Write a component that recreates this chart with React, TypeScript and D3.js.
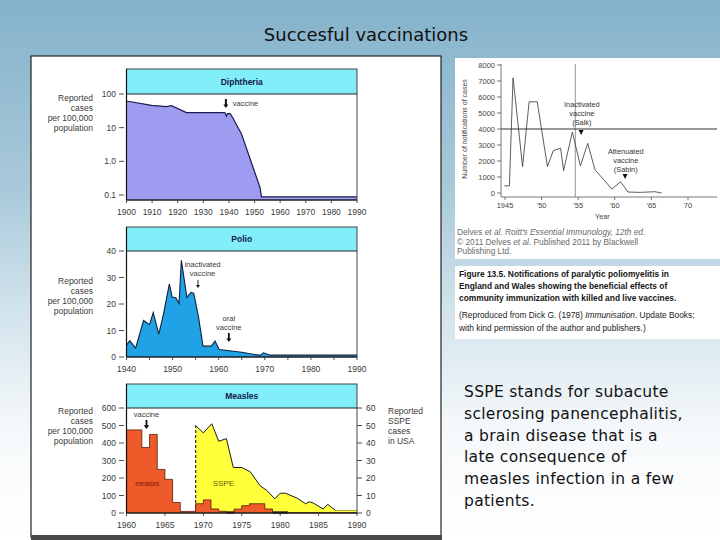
import React from 'react';
import * as d3 from 'd3';

const W = 720;
const H = 540;
const font = "'Liberation Sans', Arial, sans-serif";

// Diphtheria, reported cases per 100,000 (log scale)
const diphtheria: [number, number][] = [
  [1900, 62], [1909.8, 46], [1915.6, 42], [1917.6, 45], [1923.4, 28], [1938.4, 28],
  [1939, 22], [1939.4, 26], [1940.5, 26], [1941.6, 19], [1944.9, 6.5], [1952.1, 0.17],
  [1952.7, 0.088], [1990, 0.088],
];
const diphTicks = [100, 10, 1, 0.1];
const diphTickLabels = ['100', '10', '1.0', '0.1'];
const diphYears = [1900, 1910, 1920, 1930, 1940, 1950, 1960, 1970, 1980, 1990];

// Polio (US), reported cases per 100,000
const polioUS: [number, number][] = [
  [1940, 4.5], [1940.7, 6.2], [1942, 3.4], [1943.7, 13.8], [1945, 12.2], [1945.8, 16.8],
  [1947, 8.6], [1948, 16], [1949.3, 27.6], [1949.9, 22.6], [1950.7, 22.4], [1951.4, 20.2],
  [1951.9, 36.5], [1953.1, 22.5], [1954, 24.4], [1954.6, 24], [1955.6, 15.2], [1956.6, 4.1],
  [1958.4, 4.1], [1959.2, 6], [1960.1, 2.8], [1965, 1.8], [1969, 0.6], [1969.7, 1.6],
  [1971.2, 0.7], [1990, 0.7],
];
const polioTicks = [0, 10, 20, 30, 40];
const polioYears = [1940, 1950, 1960, 1970, 1980, 1990];

// Measles (step bars), cases per 100,000
const measles: [number, number][] = [
  [1960, 475], [1962, 374], [1963, 449], [1964, 249], [1965, 192], [1966, 60], [1967, 9],
  [1969, 53], [1970, 75], [1971, 23], [1972, 10], [1973, 4], [1974, 22], [1975, 42],
  [1976, 53], [1978, 23], [1979, 4], [1981, 2], [1990, 2],
];
const measlesDark: [number, number][] = [[1973, 1974], [1979, 1981]];
// SSPE cases in USA (right axis)
const sspe: [number, number][] = [
  [1969, 50], [1970, 45.8], [1971.1, 51], [1972, 41], [1973, 42.5], [1973.9, 26], [1975, 26],
  [1976.1, 23.6], [1977.4, 15.5], [1978.3, 12.8], [1979.3, 8.1], [1980, 11.3], [1980.7, 11.3],
  [1982.2, 8.5], [1983.3, 5.3], [1983.8, 6.4], [1984.3, 5.7], [1985.6, 2.3], [1986.2, 4.9],
  [1987.2, 1.5], [1990, 1.5],
];
const measlesTicks = [0, 100, 200, 300, 400, 500, 600];
const sspeTicks = [0, 10, 20, 30, 40, 50, 60];
const measlesYears = [1960, 1965, 1970, 1975, 1980, 1985, 1990];

// Paralytic poliomyelitis notifications, England and Wales
const polioUK: [number, number][] = [
  [1944.9, 450], [1945.6, 450], [1946.1, 7200], [1947.4, 1650], [1948.3, 5700], [1949.4, 5700],
  [1950.8, 1650], [1951.6, 2650], [1952.6, 2800], [1953, 1400], [1954.2, 3800], [1955.3, 1700],
  [1956.3, 3100], [1957.3, 1450], [1959.6, 250], [1960.8, 700], [1961.8, 60], [1963.5, 40],
  [1965.5, 80], [1966.4, 0],
];
const ukTicks = [0, 1000, 2000, 3000, 4000, 5000, 6000, 7000, 8000];
const ukYears = [1945, 1950, 1955, 1960, 1965, 1970];
const ukYearLabels = ['1945', "'50", "'55", "'60", "'65", '70'];

const leftLabel = ['Reported', 'cases', 'per 100,000', 'population'];
const sspeLabel = ['Reported', 'SSPE', 'cases', 'in USA'];
const paragraph = [
  'SSPE stands for subacute',
  'sclerosing panencephalitis,',
  'a brain disease that is a',
  'late consequence of',
  'measles infection in a few',
  'patients.',
];

const X0 = 126.5;
const X1 = 357;
const HEADER = '#82eef9';
const INK = '#3a3a3a';

function Arrow({ x, y1, y2, w = 1.6, head = 3 }: { x: number; y1: number; y2: number; w?: number; head?: number }) {
  return (
    <g>
      <line x1={x} x2={x} y1={y1} y2={y2 - head} stroke="#111" strokeWidth={w} />
      <polygon points={`${x - head},${y2 - head - 1} ${x + head},${y2 - head - 1} ${x},${y2}`} fill="#111" />
    </g>
  );
}

function Frame({ top, header, bottom, title }: { top: number; header: number; bottom: number; title: string }) {
  return (
    <g>
      <rect x={X0} y={top} width={X1 - X0} height={header - top} fill={HEADER} />
      <text x={(X0 + X1) / 2} y={(top + header) / 2 + 3} textAnchor="middle" fontFamily={font} fontSize={8.5}
        fontWeight="bold" fill="#10204a">{title}</text>
      <rect x={X0} y={top} width={X1 - X0} height={bottom - top} fill="none" stroke="#333" strokeWidth={0.9} />
      <line x1={X0} x2={X1} y1={header} y2={header} stroke="#222" strokeWidth={1.2} />
      <line x1={X0} x2={X0} y1={top} y2={bottom} stroke="#111" strokeWidth={1.2} />
      <line x1={X0} x2={X1} y1={bottom} y2={bottom} stroke="#111" strokeWidth={1.2} />
    </g>
  );
}

function LeftTicks({ ticks, labels, y }: { ticks: number[]; labels: string[]; y: (v: number) => number }) {
  return (
    <g>
      {ticks.map((t, i) => (
        <g key={t}>
          <line x1={119} x2={124} y1={y(t)} y2={y(t)} stroke={INK} strokeWidth={0.9} />
          <text x={116} y={y(t) + 3} textAnchor="end" fontFamily={font} fontSize={8.5} fill={INK}>{labels[i]}</text>
        </g>
      ))}
    </g>
  );
}

function XTicks({ years, labels, x, y, minor = [] }: { years: number[]; labels: string[]; x: (v: number) => number; y: number; minor?: number[] }) {
  return (
    <g>
      {years.concat(minor).map((t) => (
        <line key={'t' + t} x1={x(t)} x2={x(t)} y1={y} y2={y + 3} stroke={INK} strokeWidth={0.9} />
      ))}
      {years.map((t, i) => (
        <text key={t} x={x(t)} y={y + 15} textAnchor="middle" fontFamily={font} fontSize={8.5} fill={INK}>{labels[i]}</text>
      ))}
    </g>
  );
}

function StackLabel({ lines, x, y, anchor }: { lines: string[]; x: number; y: number; anchor: 'start' | 'end' }) {
  return (
    <text x={x} y={y} textAnchor={anchor} fontFamily={font} fontSize={8.5} fill={INK}>
      {lines.map((l, i) => (
        <tspan key={i} x={x} dy={i === 0 ? 0 : 10}>{l}</tspan>
      ))}
    </text>
  );
}

export default function App() {
  // Diphtheria
  const dTop = 69, dHead = 94, dBottom = 200;
  const xD = d3.scaleLinear().domain([1900, 1990]).range([X0, X1]);
  const yD = d3.scaleLog().domain([0.1, 100]).range([195, dHead]);
  const dArea = d3.area<[number, number]>().x((d) => xD(d[0])).y0(dBottom).y1((d) => yD(d[1]))(diphtheria) || '';
  const dLine = d3.line<[number, number]>().x((d) => xD(d[0])).y((d) => yD(d[1]))(diphtheria) || '';

  // Polio US
  const pTop = 227, pHead = 251, pBottom = 357;
  const xP = d3.scaleLinear().domain([1940, 1990]).range([X0, X1]);
  const yP = d3.scaleLinear().domain([0, 40]).range([pBottom, pHead]);
  const pArea = d3.area<[number, number]>().x((d) => xP(d[0])).y0(pBottom).y1((d) => yP(d[1]))(polioUS) || '';
  const pLine = d3.line<[number, number]>().x((d) => xP(d[0])).y((d) => yP(d[1]))(polioUS) || '';

  // Measles
  const mTop = 384, mHead = 408, mBottom = 513;
  const xM = d3.scaleLinear().domain([1960, 1990]).range([X0, X1]);
  const yM = d3.scaleLinear().domain([0, 600]).range([mBottom, mHead]);
  const yS = d3.scaleLinear().domain([0, 60]).range([mBottom, mHead]);
  const mArea = d3.area<[number, number]>().curve(d3.curveStepAfter).x((d) => xM(d[0])).y0(mBottom).y1((d) => yM(d[1]))(measles) || '';
  const mLine = d3.line<[number, number]>().curve(d3.curveStepAfter).x((d) => xM(d[0])).y((d) => yM(d[1]))(measles) || '';
  const sArea = d3.area<[number, number]>().x((d) => xM(d[0])).y0(mBottom).y1((d) => yS(d[1]))(sspe) || '';
  const sLineDark = d3.line<[number, number]>().x((d) => xM(d[0])).y((d) => yS(d[1]))(sspe.filter((d) => d[0] <= 1987.2)) || '';
  const sLineLight = d3.line<[number, number]>().x((d) => xM(d[0])).y((d) => yS(d[1]))(sspe.filter((d) => d[0] >= 1987.2)) || '';

  // Polio UK
  const xU = d3.scaleLinear().domain([1945, 1970]).range([505, 688]);
  const yU = d3.scaleLinear().domain([0, 8000]).range([193, 65]);
  const uAxisX = 501, uAxisY = 197;
  const uLine = d3.line<[number, number]>().x((d) => xU(d[0])).y((d) => yU(d[1]))(polioUK) || '';

  return (
    <svg width={W} height={H} style={{ position: 'absolute', left: 0, top: 0 }}>
      <defs>
        <linearGradient id="bg" x1="0" y1="0" x2="0" y2="1">
          <stop offset="0" stopColor="#84b2ca" />
          <stop offset="0.35" stopColor="#a9c9da" />
          <stop offset="0.6" stopColor="#d6e6ee" />
          <stop offset="0.8" stopColor="#f6f9fb" />
          <stop offset="1" stopColor="#ffffff" />
        </linearGradient>
      </defs>
      <rect x={0} y={0} width={W} height={H} fill="url(#bg)" />
      <text x={366} y={41} textAnchor="middle" fontFamily="'DejaVu Sans', sans-serif" fontSize={18} fill="#111">
        Succesful vaccinations
      </text>

      {/* left white panel */}
      <rect x={31} y={56} width={410} height={481} fill="#fff" stroke="#222" strokeWidth={1.2} />
      <rect x={31} y={535} width={411} height={5} fill="#4a4a4a" />

      {/* Diphtheria */}
      <path d={dArea} fill="#9d9cf0" />
      <path d={dLine} fill="none" stroke="#1c1c50" strokeWidth={1.2} />
      <Frame top={dTop} header={dHead} bottom={dBottom} title="Diphtheria" />
      <LeftTicks ticks={diphTicks} labels={diphTickLabels} y={yD} />
      <XTicks years={diphYears} labels={diphYears.map(String)} x={xD} y={dBottom} />
      <StackLabel lines={leftLabel} x={93} y={101} anchor="end" />
      <Arrow x={xD(1938.8)} y1={99} y2={108} w={2} head={2.5} />
      <text x={xD(1938.8) + 7} y={106} fontFamily={font} fontSize={7.5} fill={INK}>vaccine</text>

      {/* Polio */}
      <path d={pArea} fill="#1fa3e6" />
      <path d={pLine} fill="none" stroke="#10203f" strokeWidth={1.1} />
      <Frame top={pTop} header={pHead} bottom={pBottom} title="Polio" />
      <LeftTicks ticks={polioTicks} labels={polioTicks.map(String)} y={yP} />
      <XTicks years={polioYears} labels={polioYears.map(String)} x={xP} y={pBottom}
        minor={[1945, 1955, 1965, 1975, 1985]} />
      <StackLabel lines={leftLabel} x={93} y={284} anchor="end" />
      <text x={xP(1956.5)} y={267} textAnchor="middle" fontFamily={font} fontSize={7.5} fill={INK}>
        <tspan x={xP(1956.5)}>inactivated</tspan>
        <tspan x={xP(1956.5)} dy={9}>vaccine</tspan>
      </text>
      <Arrow x={xP(1955.5)} y1={280} y2={288} w={0.9} head={2} />
      <text x={xP(1962.2)} y={321} textAnchor="middle" fontFamily={font} fontSize={7.5} fill={INK}>
        <tspan x={xP(1962.2)}>oral</tspan>
        <tspan x={xP(1962.2)} dy={9}>vaccine</tspan>
      </text>
      <Arrow x={xP(1962.2)} y1={333} y2={342} w={1.8} head={2.5} />

      {/* Measles & SSPE */}
      <path d={sArea} fill="#ffff3a" />
      <path d={sLineDark} fill="none" stroke="#1a1a1a" strokeWidth={1} />
      <path d={sLineLight} fill="none" stroke="#a8a84a" strokeWidth={1} />
      <line x1={xM(1969)} x2={xM(1969)} y1={yS(0)} y2={yS(50)} stroke="#333" strokeWidth={1.2} strokeDasharray="3,2" />
      <path d={mArea} fill="#ef5a2a" />
      <path d={mLine} fill="none" stroke="#5a1a05" strokeWidth={0.8} />
      {measlesDark.map(([a, b]) => (
        <line key={a} x1={xM(a)} x2={xM(b)} y1={yM(3)} y2={yM(3)} stroke="#1a1a1a" strokeWidth={2.2} />
      ))}
      <Frame top={mTop} header={mHead} bottom={mBottom} title="Measles" />
      <LeftTicks ticks={measlesTicks} labels={measlesTicks.map(String)} y={yM} />
      {sspeTicks.map((t) => (
        <g key={t}>
          <line x1={X1} x2={X1 + 5} y1={yS(t)} y2={yS(t)} stroke={INK} strokeWidth={0.9} />
          <text x={366} y={yS(t) + 3} fontFamily={font} fontSize={8.5} fill={INK}>{t}</text>
        </g>
      ))}
      <XTicks years={measlesYears} labels={measlesYears.map(String)} x={xM} y={mBottom} />
      <StackLabel lines={leftLabel} x={93} y={414} anchor="end" />
      <StackLabel lines={sspeLabel} x={388} y={414} anchor="start" />
      <text x={xM(1962.6)} y={417} textAnchor="middle" fontFamily={font} fontSize={7.5} fill={INK}>vaccine</text>
      <Arrow x={xM(1962.6)} y1={420} y2={429} w={1.8} head={2.8} />
      <text x={xM(1962.7)} y={486} textAnchor="middle" fontFamily={font} fontSize={6.5} fill="#7a1a00">measles</text>
      <text x={xM(1972.6)} y={486} textAnchor="middle" fontFamily={font} fontSize={8} fill="#6a6000">SSPE</text>

      {/* right top: UK polio notifications */}
      <rect x={455} y={58} width={265} height={201} fill="#fff" />
      <line x1={uAxisX} x2={uAxisX} y1={64} y2={uAxisY} stroke="#555" strokeWidth={0.8} />
      <line x1={uAxisX} x2={717} y1={uAxisY} y2={uAxisY} stroke="#555" strokeWidth={0.8} />
      {ukTicks.map((t) => (
        <g key={t}>
          <line x1={uAxisX - 4} x2={uAxisX} y1={yU(t)} y2={yU(t)} stroke="#555" strokeWidth={0.8} />
          <text x={uAxisX - 6} y={yU(t) + 2.5} textAnchor="end" fontFamily={font} fontSize={7.5} fill="#444">{t}</text>
        </g>
      ))}
      {ukYears.map((t, i) => (
        <g key={t}>
          <line x1={xU(t)} x2={xU(t)} y1={uAxisY} y2={uAxisY + 3} stroke="#555" strokeWidth={0.8} />
          <text x={xU(t)} y={uAxisY + 11} textAnchor="middle" fontFamily={font} fontSize={7.5} fill="#444">{ukYearLabels[i]}</text>
        </g>
      ))}
      <text x={xU(1958.3)} y={219} textAnchor="middle" fontFamily={font} fontSize={7.2} fill="#444">Year</text>
      <text transform={`translate(467,${yU(4000)}) rotate(-90)`} textAnchor="middle" fontFamily={font} fontSize={7} fill="#444">
        Number of notifications of cases
      </text>
      <line x1={xU(1954.6)} x2={xU(1954.6)} y1={64} y2={uAxisY} stroke="#777" strokeWidth={0.8} />
      <line x1={uAxisX} x2={717} y1={yU(4000)} y2={yU(4000)} stroke="#333" strokeWidth={1} />
      <path d={uLine} fill="none" stroke="#333" strokeWidth={0.8} />
      <text x={xU(1955.5)} y={107} textAnchor="middle" fontFamily={font} fontSize={7.4} fill="#333">
        <tspan x={xU(1955.5)}>Inactivated</tspan>
        <tspan x={xU(1955.5)} dy={9}>vaccine</tspan>
        <tspan x={xU(1955.5)} dy={9}>(Salk)</tspan>
      </text>
      <polygon points={`${xU(1955.4) - 2.5},${130} ${xU(1955.4) + 2.5},${130} ${xU(1955.4)},${135}`} fill="#111" />
      <text x={xU(1961.5)} y={154} textAnchor="middle" fontFamily={font} fontSize={7.4} fill="#333">
        <tspan x={xU(1961.5)}>Attenuated</tspan>
        <tspan x={xU(1961.5)} dy={9}>vaccine</tspan>
        <tspan x={xU(1961.5)} dy={9}>(Sabin)</tspan>
      </text>
      <polygon points={`${xU(1961.4) - 2.5},${174} ${xU(1961.4) + 2.5},${174} ${xU(1961.4)},${179}`} fill="#111" />
      <text x={457} y={235} fontFamily={font} fontSize={8.3} fill="#6a6a6a">
        <tspan x={457}>Delves <tspan fontStyle="italic">et al. Roitt's Essential Immunology, 12th ed.</tspan></tspan>
        <tspan x={457} dy={9.5}>© 2011 Delves <tspan fontStyle="italic">et al.</tspan> Published 2011 by Blackwell</tspan>
        <tspan x={457} dy={9.5}>Publishing Ltd.</tspan>
      </text>

      {/* caption box */}
      <rect x={455} y={266} width={265} height={73} fill="#fff" />
      <text x={459} y={277} fontFamily={font} fontSize={8.4} fontWeight="bold" fill="#151515">
        <tspan x={459}>Figure 13.5. Notifications of paralytic poliomyelitis in</tspan>
        <tspan x={459} dy={12}>England and Wales showing the beneficial effects of</tspan>
        <tspan x={459} dy={12}>community immunization with killed and live vaccines.</tspan>
      </text>
      <text x={459} y={318} fontFamily={font} fontSize={8.4} fill="#222">
        <tspan x={459}>(Reproduced from Dick G. (1978) <tspan fontStyle="italic">Immunisation</tspan>. Update Books;</tspan>
        <tspan x={459} dy={13}>with kind permission of the author and publishers.)</tspan>
      </text>

      {/* SSPE paragraph */}
      <text fontFamily="'DejaVu Sans', sans-serif" fontSize={15.5} letterSpacing={0.3} fill="#111">
        {paragraph.map((l, i) => (
          <tspan key={i} x={464} y={397 + i * 21.8}>{l}</tspan>
        ))}
      </text>
    </svg>
  );
}
